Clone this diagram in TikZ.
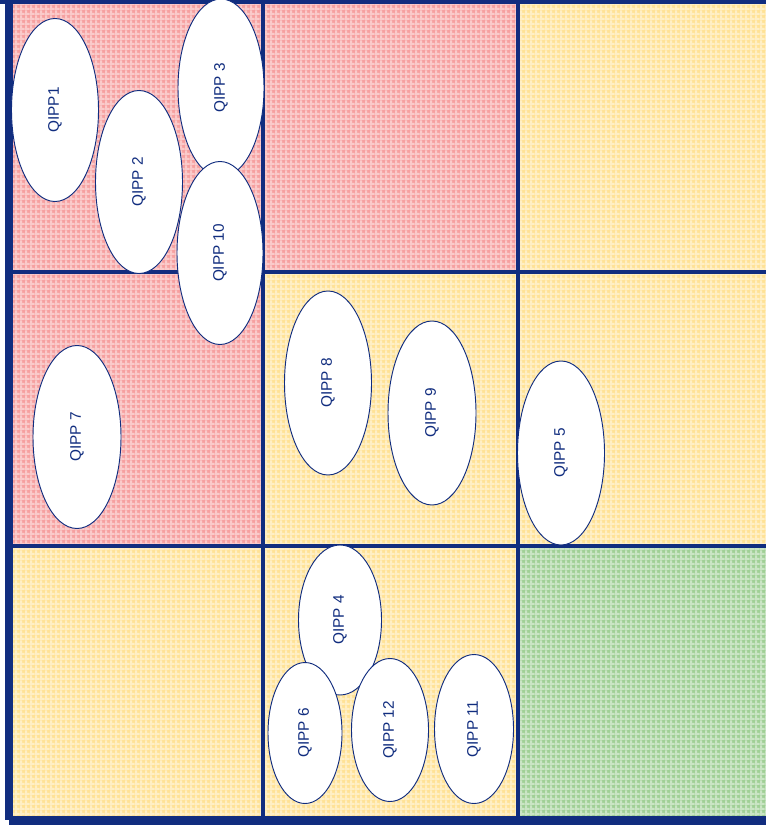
\documentclass[tikz,border=0pt]{standalone}
\usepackage{fontspec}
\setmainfont{Liberation Sans}
\usepackage{xcolor}
\usepackage{tikz}
\usetikzlibrary{shapes.geometric, patterns.meta}

\definecolor{qblue}{RGB}{17,45,127}
\definecolor{qred}{RGB}{246,160,160}
\definecolor{qyellow}{RGB}{255,226,150}
\definecolor{qgreen}{RGB}{160,208,150}

\tikzdeclarepattern{
  name=gingham,
  type=uncolored,
  bounding box={(0,0) and (4pt,4pt)},
  tile size={(4pt,4pt)},
  code={
    \fill (0pt,0pt) rectangle (4pt,1.8pt);
    \fill (0pt,0pt) rectangle (1.8pt,4pt);
  }
}

\begin{document}
\begin{tikzpicture}[x=0.75pt, y=-0.75pt,
    cell/.style={fill=#1},
    check/.style={pattern={gingham}, pattern color=white, fill opacity=0.45},
    gridline/.style={qblue, line width=2.4pt},
    qsize/.style 2 args={minimum width=#1*0.75pt, minimum height=#2*0.75pt},
    qipp/.style={ellipse, draw=qblue, line width=0.7pt, fill=white,
      inner sep=0pt, rotate=90, text=qblue,
      font=\fontsize{11.5}{14}\selectfont}]
    \useasboundingbox (0,0) rectangle (766,830);

    % Felder
    \fill[cell=qred]    (12,3)    rectangle (263,272);
    \fill[cell=qred]    (263,3)   rectangle (518,272);
    \fill[cell=qyellow] (518,3)   rectangle (766,272);
    \fill[cell=qred]    (12,272)  rectangle (263,546);
    \fill[cell=qyellow] (263,272) rectangle (518,546);
    \fill[cell=qyellow] (518,272) rectangle (766,546);
    \fill[cell=qyellow] (12,546)  rectangle (263,817);
    \fill[cell=qyellow] (263,546) rectangle (518,817);
    \fill[cell=qgreen]  (518,546) rectangle (766,817);
    \fill[check] (12,3) rectangle (766,817);

    % Gitter
    \draw[gridline] (263,0) -- (263,817);
    \draw[gridline] (518,0) -- (518,817);
    \draw[gridline] (12,272) -- (766,272);
    \draw[gridline] (12,546) -- (766,546);
    \fill[qblue] (0,0) rectangle (766,4);

    % Achsen
    \fill[qblue] (5,0) rectangle (13,820);
    \fill[qblue] (9,816) rectangle (766,825);

    % QIPP
    \node[qipp, qsize={183}{87}] (q1)  at (55,110)  {QIPP1};
    \node[qipp, qsize={183}{87}] (q2)  at (139,182) {QIPP 2};
    \node[qipp, qsize={178}{86}] (q3)  at (221,88)  {QIPP 3};
    \node[qipp, qsize={183}{86}] (q10) at (220,253) {QIPP 10};
    \node[qipp, qsize={183}{88}] (q7)  at (77,437)  {QIPP 7};
    \node[qipp, qsize={184}{87}] (q8)  at (328,383) {QIPP 8};
    \node[qipp, qsize={184}{88}] (q9)  at (432,413) {QIPP 9};
    \node[qipp, qsize={184}{87}] (q5)  at (561,453) {QIPP 5};
    \node[qipp, qsize={150}{83}] (q4)  at (340,620) {QIPP 4};
    \node[qipp, qsize={141}{74}] (q6)  at (305,733) {QIPP 6};
    \node[qipp, qsize={143}{77}] (q12) at (390,730) {QIPP 12};
    \node[qipp, qsize={149}{79}] (q11) at (474,729) {QIPP 11};
\end{tikzpicture}
\end{document}
